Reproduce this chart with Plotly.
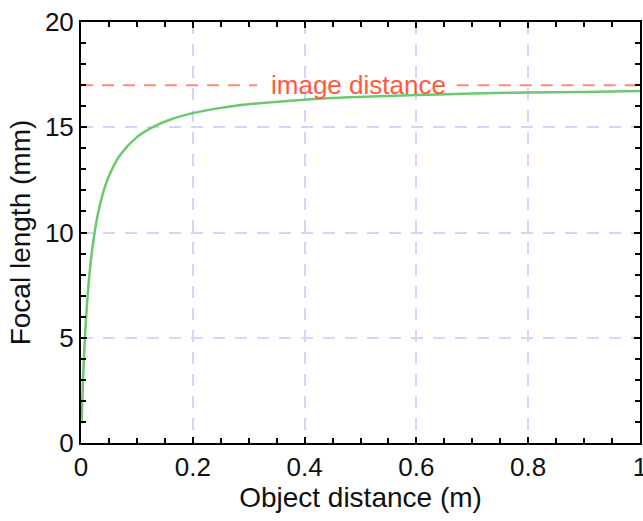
import plotly.graph_objects as go

# Object distance (m) and focal length (mm)
object_distance = [0.001, 0.002, 0.004, 0.006, 0.01, 0.015, 0.02, 0.03, 0.04, 0.05,
                   0.07, 0.1, 0.13, 0.16, 0.2, 0.25, 0.3, 0.4, 0.5, 0.6, 0.7, 0.8, 0.9, 1.0]
focal_length = [0.94, 1.79, 3.24, 4.43, 6.30, 7.97, 9.19, 10.85, 11.93, 12.69,
                13.68, 14.53, 15.03, 15.37, 15.67, 15.92, 16.09, 16.31, 16.44, 16.53,
                16.60, 16.65, 16.68, 16.72]
image_distance = 17
image_label = "image distance"
# the dashed reference line is interrupted where the label sits
ref_line_x = [0, 0.315, None, 0.672, 1]
ref_line_y = [image_distance, image_distance, None, image_distance, image_distance]
x_ticks = [0, 0.2, 0.4, 0.6, 0.8, 1]
x_tick_text = ["0", "0.2", "0.4", "0.6", "0.8", "1"]
y_ticks = [0, 5, 10, 15, 20]

fig = go.Figure()
fig.add_trace(go.Scatter(x=ref_line_x, y=ref_line_y, mode="lines",
                         line=dict(color="#ff8c78", width=2, dash="12px,9px"),
                         connectgaps=False, showlegend=False, hoverinfo="skip"))
fig.add_trace(go.Scatter(x=object_distance, y=focal_length, mode="lines",
                         line=dict(color="#6cc86c", width=2.5, shape="spline"),
                         showlegend=False))
fig.add_annotation(x=0.497, y=image_distance, text=image_label, showarrow=False,
                   font=dict(family="Liberation Sans, Arial", size=26, color="#ff5a3c"),
                   xanchor="center", yanchor="middle")

grid = dict(showgrid=True, gridcolor="#d4d4ff", gridwidth=1.5, griddash="12px,10px")
fig.update_xaxes(range=[0, 1], tickvals=x_ticks, ticktext=x_tick_text,
                 ticks="inside", ticklen=6, tickwidth=1.5, tickcolor="black",
                 minor=dict(dtick=0.05, ticks="inside", ticklen=5, tickwidth=1.5,
                            tickcolor="black", showgrid=False),
                 showline=True, linecolor="black", linewidth=2, mirror="ticks",
                 zeroline=False, ticklabeloverflow="allow", automargin=False,
                 title=dict(text="Object distance (m)", standoff=6,
                            font=dict(size=28, color="#111")),
                 tickfont=dict(size=26, color="#111"), **grid)
fig.update_yaxes(range=[0, 20], tickvals=y_ticks,
                 ticks="inside", ticklen=6, tickwidth=1.5, tickcolor="black",
                 minor=dict(dtick=1, ticks="inside", ticklen=5, tickwidth=1.5,
                            tickcolor="black", showgrid=False),
                 showline=True, linecolor="black", linewidth=2, mirror="ticks",
                 zeroline=False, ticklabeloverflow="allow", automargin=False,
                 title=dict(text="Focal length (mm)", standoff=6,
                            font=dict(size=28, color="#111")),
                 tickfont=dict(size=26, color="#111"), **grid)
fig.update_layout(width=643, height=521, plot_bgcolor="white", paper_bgcolor="white",
                  margin=dict(l=81, r=3, t=22, b=78),
                  font=dict(family="Liberation Sans, Arial"))
fig.write_html("out.html")
